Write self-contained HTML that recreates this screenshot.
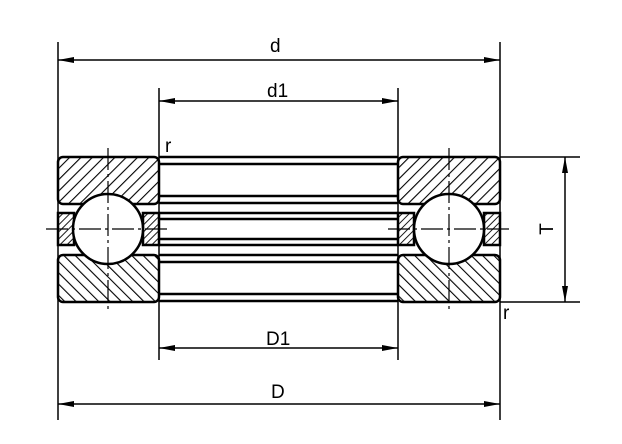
<!DOCTYPE html>
<html><head><style>body{margin:0;background:#fff}svg{display:block}</style></head><body>
<svg width="622" height="444" viewBox="0 0 622 444" xmlns="http://www.w3.org/2000/svg" font-family="Liberation Sans, sans-serif">
<defs>
<pattern id="h1" width="8" height="8" patternUnits="userSpaceOnUse" patternTransform="rotate(45)"><line x1="0" y1="0" x2="0" y2="8" stroke="#000" stroke-width="2.2"/></pattern>
<pattern id="h2" width="8" height="8" patternUnits="userSpaceOnUse" patternTransform="rotate(-45)"><line x1="0" y1="0" x2="0" y2="8" stroke="#000" stroke-width="2.2"/></pattern>
<pattern id="h3" width="5" height="5" patternUnits="userSpaceOnUse" patternTransform="rotate(45)"><line x1="0" y1="0" x2="0" y2="5" stroke="#000" stroke-width="1.8"/></pattern>
</defs>
<g stroke="#000" fill="none" stroke-width="1.5">
<line x1="58" y1="42" x2="58" y2="420"/><line x1="500" y1="42" x2="500" y2="420"/>
<line x1="159" y1="88" x2="159" y2="360"/><line x1="398" y1="88" x2="398" y2="360"/>
<line x1="500" y1="157" x2="580" y2="157"/><line x1="500" y1="302" x2="580" y2="302"/>
<line x1="58" y1="60" x2="500" y2="60"/><line x1="159" y1="101" x2="398" y2="101"/>
<line x1="159" y1="348" x2="398" y2="348"/><line x1="58" y1="404" x2="500" y2="404"/>
<line x1="565" y1="157" x2="565" y2="302"/>
<g stroke-width="2.5">
<line x1="159" y1="157" x2="398" y2="157"/><line x1="159" y1="164" x2="398" y2="164"/>
<line x1="159" y1="196" x2="398" y2="196"/><line x1="159" y1="203" x2="398" y2="203"/>
<line x1="159" y1="213" x2="398" y2="213"/><line x1="159" y1="219" x2="398" y2="219"/>
<line x1="159" y1="239" x2="398" y2="239"/><line x1="159" y1="245" x2="398" y2="245"/>
<line x1="159" y1="255" x2="398" y2="255"/><line x1="159" y1="262" x2="398" y2="262"/>
<line x1="159" y1="294" x2="398" y2="294"/><line x1="159" y1="301" x2="398" y2="301"/>
</g>
<g stroke-width="2.5">
<rect x="58" y="157" width="101" height="47" rx="5" fill="url(#h1)"/>
<rect x="58" y="255" width="101" height="47" rx="5" fill="url(#h2)"/>
<rect x="398" y="157" width="102" height="47" rx="5" fill="url(#h1)"/>
<rect x="398" y="255" width="102" height="47" rx="5" fill="url(#h2)"/>
<rect x="58" y="213" width="16" height="32" fill="url(#h3)"/>
<rect x="143" y="213" width="16" height="32" fill="url(#h3)"/>
<rect x="398" y="213" width="16" height="32" fill="url(#h3)"/>
<rect x="484" y="213" width="16" height="32" fill="url(#h3)"/>
<circle cx="108" cy="229" r="35" fill="#fff"/>
<circle cx="449" cy="229" r="35" fill="#fff"/>
</g>
<g stroke-width="1.2" stroke-dasharray="22,4,3,4">
<line x1="108" y1="148" x2="108" y2="312"/><line x1="449" y1="148" x2="449" y2="312"/>
<line x1="46" y1="229" x2="168" y2="229"/><line x1="388" y1="229" x2="512" y2="229"/>
</g>
</g>
<g fill="#000">
<polygon points="58,60 74,57 74,63"/><polygon points="500,60 484,57 484,63"/>
<polygon points="159,101 175,98 175,104"/><polygon points="398,101 382,98 382,104"/>
<polygon points="159,348 175,345 175,351"/><polygon points="398,348 382,345 382,351"/>
<polygon points="58,404 74,401 74,407"/><polygon points="500,404 484,401 484,407"/>
<polygon points="565,157 562,173 568,173"/><polygon points="565,302 562,286 568,286"/>
</g>
<g font-size="19" fill="#000">
<text x="270" y="52">d</text>
<text x="267" y="97">d1</text>
<text x="266" y="345">D1</text>
<text x="271" y="398">D</text>
<text x="165" y="152">r</text>
<text x="503" y="319">r</text>
<text x="0" y="0" transform="translate(553,229) rotate(-90)" text-anchor="middle">T</text>
</g>
</svg>
</body></html>
